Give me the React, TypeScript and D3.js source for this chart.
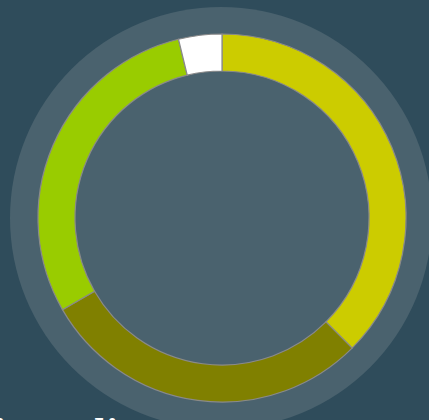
import React from "react";
import * as d3 from "d3";

const categories = ["A", "B", "C", "D"];
const values = [37.5, 29.2, 29.5, 3.8];
const colors = ["#cccc00", "#808000", "#99cc00", "#ffffff"];
const titleParts = ["in a", "lies"];

const W = 429;
const H = 420;

export default function App() {
  const cx = 222;
  const cy = 218;
  const pie = d3.pie<number>().sort(null).value((d) => d)(values);
  const arc = d3.arc<d3.PieArcDatum<number>>().innerRadius(147).outerRadius(184);
  return (
    <svg
      width={W}
      height={H}
      style={{ position: "absolute", left: 0, top: 0, display: "block" }}
    >
      <rect width={W} height={H} fill="#2f4c5b" />
      <circle cx={cx - 1} cy={cy} r={211} fill="#4a626e" />
      <g transform={`translate(${cx},${cy})`}>
        {pie.map((p, i) => (
          <path
            key={categories[i]}
            d={arc(p) || ""}
            fill={colors[i]}
            stroke="#8a8a8a"
            strokeWidth={1.2}
          />
        ))}
      </g>
      <text
        y={441.5}
        fill="#ffffff"
        fontFamily="DejaVu Serif"
        fontWeight="bold"
        fontSize={32}
      >
        <tspan x={-6}>{titleParts[0]}</tspan>
        <tspan x={94}>{titleParts[1]}</tspan>
      </text>
    </svg>
  );
}
